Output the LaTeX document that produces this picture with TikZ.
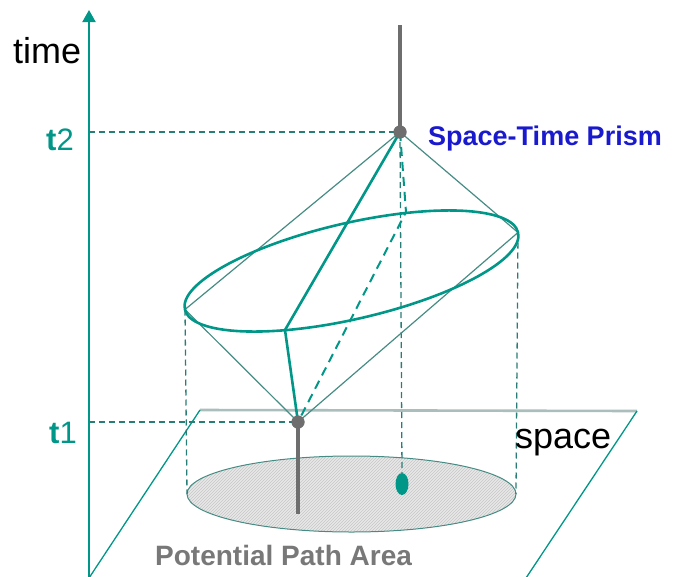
\documentclass[tikz,border=0pt]{standalone}
\usepackage{fontspec}
\setmainfont{Liberation Sans}
\usetikzlibrary{arrows.meta, patterns, shapes.geometric}
\definecolor{stteal}{RGB}{0,150,136}
\definecolor{stdash}{RGB}{40,125,118}
\definecolor{stcone}{RGB}{70,140,132}
\definecolor{stgray}{RGB}{110,110,110}
\definecolor{stplane}{RGB}{170,190,188}
\definecolor{stblue}{RGB}{25,25,205}
\definecolor{stlabel}{RGB}{120,120,120}
\tikzset{
    axisline/.style={stteal, line width=2pt, -{Triangle[length=12pt, width=13pt]}},
    guideline/.style={stdash, line width=1.3pt, dash pattern=on 6pt off 4pt},
    coneline/.style={stcone, line width=1.2pt},
    routeline/.style={stteal, line width=2.6pt},
    stemline/.style={stgray, line width=4pt},
    knot/.style={circle, fill=stgray, inner sep=0pt, minimum size=13pt},
    bigtxt/.style={font=\fontsize{36}{40}\selectfont, inner sep=0pt, anchor=base west},
    ticktxt/.style={font=\fontsize{31}{36}\selectfont, text=stteal, inner sep=0pt, anchor=base west},
    headtxt/.style={font=\fontsize{27}{32}\selectfont\bfseries, inner sep=0pt, anchor=base west},
}

\begin{document}
\begin{tikzpicture}[x=1pt, y=-1pt]
    \useasboundingbox (0,0) rectangle (680,576);
    % key points
    \coordinate (axb) at (89,578);
    \coordinate (axt) at (89,10);
    \coordinate (ht2) at (89,132);
    \coordinate (ht1) at (89,422);
    \coordinate (pa) at (200,410);
    \coordinate (pb) at (637,411);
    \coordinate (pc) at (526,578);
    \coordinate (pd) at (89,578);
    \coordinate (ctr) at (351.5,271);
    \coordinate (eleft) at (185,309.5);
    \coordinate (eright) at (518,232.5);
    \coordinate (bctr) at (351.5,494);
    \coordinate (bleft) at (187,494);
    \coordinate (bright) at (516,494);
    \coordinate (bend) at (285,330);
    \coordinate (kink) at (406,212);
    \coordinate (top) at (400,25);
    \coordinate (foot) at (298,514);

    % space plane
    \draw[stplane, line width=2.6pt] (pa) -- (pb);
    \draw[stteal, line width=1.3pt] (pa) -- (pd);
    \draw[stteal, line width=1.3pt] (pb) -- (pc);

    % potential path area
    \fill[gray!18] (bctr) ellipse [x radius=164.5pt, y radius=38pt];
    \fill[pattern=north east lines, pattern color=gray!45] (bctr) ellipse [x radius=164.5pt, y radius=38pt];
    \draw[stcone, line width=1pt] (bctr) ellipse [x radius=164.5pt, y radius=38pt];

    \node[knot] (t2) at (400,132) {};
    \node[knot] (t1) at (298,422) {};
    \node[ellipse, fill=stteal, inner sep=0pt, minimum width=13pt, minimum height=22pt] (spot) at (402,484) {};

    % guides
    \draw[guideline] (ht2) -- (t2.center);
    \draw[guideline] (ht1) -- (t1.center);
    \draw[guideline] (eleft) -- (bleft);
    \draw[guideline] (eright) -- (bright);
    \draw[guideline] (t2.center) -- (spot.north);

    \draw[axisline] (axb) -- (axt);

    % prism
    \draw[coneline] (t2.center) -- (eleft);
    \draw[coneline] (t2.center) -- (eright);
    \draw[coneline] (t1.center) -- (eleft);
    \draw[coneline] (t1.center) -- (eright);
    \draw[routeline, rotate around={13:(ctr)}] (ctr) ellipse [x radius=171pt, y radius=48pt];
    \draw[routeline] (t2.center) -- (bend) -- (t1.center);
    \draw[guideline, stteal, line width=2pt, dash pattern=on 9pt off 6pt] (t2.center) -- (kink) -- (t1.center);

    \draw[stemline] (top) -- (t2.center);
    \draw[stemline] (t1.center) -- (foot);
    \node[knot] at (t2) {};
    \node[knot] at (t1) {};

    % labels
    \node[bigtxt] (timelbl) at (13,63) {time};
    \node[bigtxt] (spacelbl) at (515,448) {space};
    \node[ticktxt] (t2lbl) at (46,150) {\textbf{t}2};
    \node[ticktxt] (t1lbl) at (49,443) {\textbf{t}1};
    \node[headtxt, text=stblue] (prism) at (428,145) {Space-Time Prism};
    \node[headtxt, text=stlabel, font=\fontsize{28}{32}\selectfont\bfseries] (ppa) at (155,565) {Potential Path Area};
\end{tikzpicture}
\end{document}
